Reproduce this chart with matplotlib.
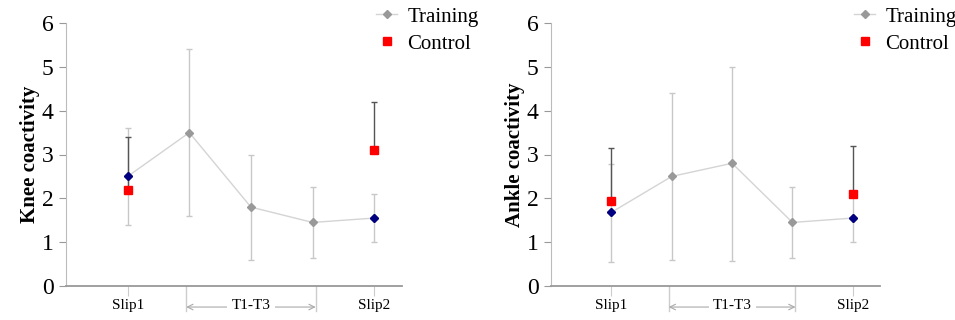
import matplotlib.pyplot as plt
import numpy as np

plt.rcParams['font.family'] = ['Liberation Serif', 'DejaVu Serif']

# positions: Slip1, T1, T2, T3, Slip2
pos = [0, 1, 2, 3, 4]
tick_names = ["Slip1", "Slip2"]

# Knee coactivity
knee_train = [2.5, 3.5, 1.8, 1.45, 1.55]
knee_train_lo = [1.4, 1.6, 0.6, 0.65, 1.0]
knee_train_hi = [3.6, 5.4, 3.0, 2.25, 2.1]
knee_ctrl = [2.2, 3.1]
knee_ctrl_hi = [3.4, 4.2]

# Ankle coactivity
ankle_train = [1.68, 2.5, 2.8, 1.45, 1.55]
ankle_train_lo = [0.55, 0.6, 0.58, 0.63, 1.0]
ankle_train_hi = [2.78, 4.4, 5.0, 2.25, 2.1]
ankle_ctrl = [1.95, 2.1]
ankle_ctrl_hi = [3.15, 3.2]

panels = [
    ("Knee coactivity", knee_train, knee_train_lo, knee_train_hi, knee_ctrl, knee_ctrl_hi),
    ("Ankle coactivity", ankle_train, ankle_train_lo, ankle_train_hi, ankle_ctrl, ankle_ctrl_hi),
]

fig = plt.figure(figsize=(9.55, 3.2), dpi=100)
W, H = 955, 320
boxes = [(66, 402), (551, 880)]
ctrl_x = [pos[0], pos[-1]]

for (title, tr, lo, hi, ct, ct_hi), (xl, xr) in zip(panels, boxes):
    ax = fig.add_axes([xl / W, 1 - 286 / H, (xr - xl) / W, (286 - 23) / H])
    tr = np.array(tr)
    yerr = [tr - np.array(lo), np.array(hi) - tr]
    ax.errorbar(pos, tr, yerr=yerr, fmt='none', ecolor='#c8c8c8', elinewidth=1,
                capsize=2.5, capthick=1, zorder=1)
    ct = np.array(ct)
    ax.errorbar(ctrl_x, ct, yerr=[np.zeros(2), np.array(ct_hi) - ct], fmt='none',
                ecolor='#555555', elinewidth=1, capsize=2.5, capthick=1, zorder=2)
    ax.plot(pos, tr, color='#d4d4d4', lw=1, marker='D', ms=4.5, mfc='#999999',
            mec='#999999', zorder=3, label='Training')
    ax.plot([pos[0], pos[-1]], [tr[0], tr[-1]], ls='none', marker='D', ms=4.5,
            color='#000080', zorder=4)
    ax.plot(ctrl_x, ct, ls='none', marker='s', ms=6, color='#ff0000', zorder=5,
            label='Control')

    ax.set_xlim(-1, 4.45)
    ax.set_ylim(0, 6)
    ax.set_yticks(range(7))
    ax.tick_params(axis='y', labelsize=17, length=5, color='#999999', pad=4)
    ax.set_xticks([pos[0], pos[-1]])
    ax.set_xticklabels(tick_names, fontsize=11)
    ax.tick_params(axis='x', length=7, color='#cccccc', pad=2)
    for s in ['top', 'right']:
        ax.spines[s].set_visible(False)
    ax.spines['left'].set_color('#bbbbbb')
    ax.spines['bottom'].set_color('#999999')
    ax.spines['bottom'].set_linewidth(1.3)
    ax.set_ylabel(title, fontsize=15, fontweight='bold', labelpad=1)

    # T1-T3 bracket below the axis
    trans = ax.get_xaxis_transform()
    for xd in [0.95, 3.05]:
        ax.plot([xd, xd], [0, -0.095], transform=trans, color='#cccccc', lw=1,
                clip_on=False)
    ax.annotate('', xy=(0.95, -0.08), xytext=(3.05, -0.08), xycoords=trans,
                textcoords=trans, arrowprops=dict(arrowstyle='<->', color='#aaaaaa',
                                                  lw=0.8, shrinkA=0, shrinkB=0))
    ax.text(2.0, -0.075, 'T1-T3', transform=trans, ha='center', va='center',
            fontsize=11, bbox=dict(fc='white', ec='none', pad=3))

    ax.legend(loc='upper left', bbox_to_anchor=((xr - 28) / W, 1 - 5 / H),
              bbox_transform=fig.transFigure, frameon=False, fontsize=15,
              handlelength=1.0, handletextpad=0.5, labelspacing=0.35,
              borderaxespad=0.0, borderpad=0.1)

fig.savefig("out.png", dpi=100)
